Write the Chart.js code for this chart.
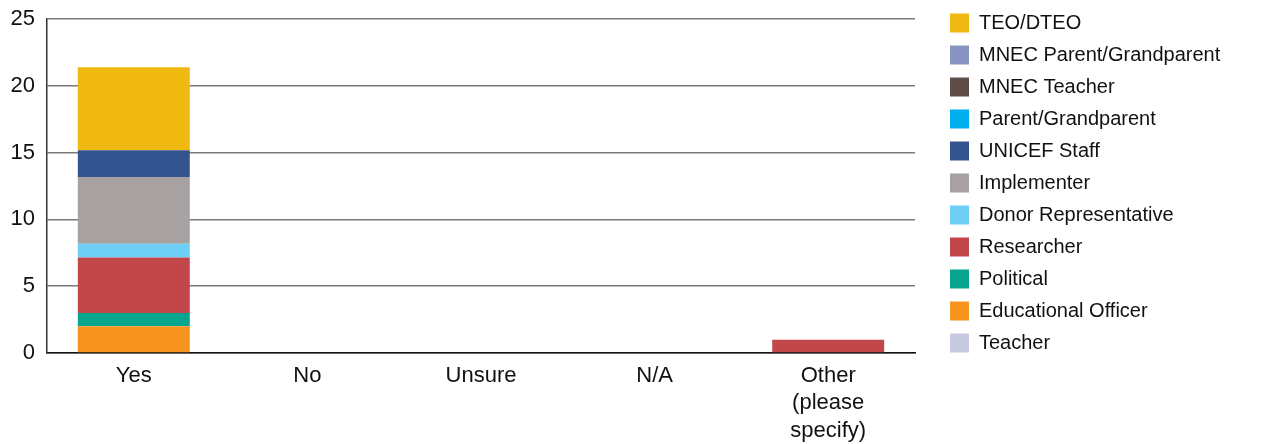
<!DOCTYPE html>
<html>
<head>
<meta charset="utf-8">
<script src="https://cdn.jsdelivr.net/npm/chart.js@4"></script>
<style>
  html, body { margin: 0; padding: 0; background: #fff; }
  #wrap { width: 1262px; height: 444px; position: relative; }
</style>
</head>
<body>
<div id="wrap"><canvas id="chart"></canvas></div>
<script>
// categories on the x axis
const categories = ['Yes', 'No', 'Unsure', 'N/A', ['Other', '(please', 'specify)']];

// one series per respondent type, stacked bottom to top
const teacher = [0, 0, 0, 0, 0];
const educationalOfficer = [2, 0, 0, 0, 0];
const political = [1, 0, 0, 0, 0];
const researcher = [4.15, 0, 0, 0, 1];
const donorRepresentative = [1.03, 0, 0, 0, 0];
const implementer = [5, 0, 0, 0, 0];
const unicefStaff = [2, 0, 0, 0, 0];
const parentGrandparent = [0, 0, 0, 0, 0];
const mnecTeacher = [0, 0, 0, 0, 0];
const mnecParentGrandparent = [0, 0, 0, 0, 0];
const teoDteo = [6.2, 0, 0, 0, 0];

const yTicks = [0, 5, 10, 15, 20, 25];

const series = [
  { label: 'Teacher', data: teacher, color: '#c5cae0' },
  { label: 'Educational Officer', data: educationalOfficer, color: '#f7941e' },
  { label: 'Political', data: political, color: '#08a58e' },
  { label: 'Researcher', data: researcher, color: '#c1474a' },
  { label: 'Donor Representative', data: donorRepresentative, color: '#6dcff6' },
  { label: 'Implementer', data: implementer, color: '#a7a2a1' },
  { label: 'UNICEF Staff', data: unicefStaff, color: '#33548e' },
  { label: 'Parent/Grandparent', data: parentGrandparent, color: '#00aeef' },
  { label: 'MNEC Teacher', data: mnecTeacher, color: '#5d4e4a' },
  { label: 'MNEC Parent/Grandparent', data: mnecParentGrandparent, color: '#8894bf' },
  { label: 'TEO/DTEO', data: teoDteo, color: '#f0b912' },
];

const FONT = '"Liberation Sans", Arial, sans-serif';
const LEGEND_WIDTH = 347;
const LEGEND_GAP = 23;
const LEGEND_TOP = 1;

// keep the legend a fixed width, leave a gap after the plot, pin it to the top
const legendPlacement = {
  id: 'legendPlacement',
  afterInit(chart) {
    const legend = chart.legend;
    const fit = legend.fit;
    legend.fit = function () {
      fit.call(this);
      this.width = LEGEND_WIDTH;
    };
  },
  afterLayout(chart) {
    const legend = chart.legend;
    const h = legend.bottom - legend.top;
    legend.left += LEGEND_GAP;
    legend.right += LEGEND_GAP;
    legend.top = LEGEND_TOP;
    legend.bottom = LEGEND_TOP + h;
  },
};

new Chart(document.getElementById('chart'), {
  type: 'bar',
  data: {
    labels: categories,
    datasets: series.map((s) => ({
      label: s.label,
      data: s.data,
      backgroundColor: s.color,
      borderWidth: 0,
      barPercentage: 0.645,
      categoryPercentage: 1,
    })),
  },
  options: {
    responsive: true,
    maintainAspectRatio: false,
    animation: false,
    layout: { padding: { top: 19, left: 0, right: 0, bottom: 0 } },
    plugins: {
      tooltip: { enabled: false },
      legend: {
        position: 'right',
        align: 'start',
        reverse: true,
        labels: {
          boxWidth: 19,
          boxHeight: 19,
          padding: 12,
          color: '#111',
          font: { family: FONT, size: 20 },
        },
      },
    },
    scales: {
      x: {
        stacked: true,
        afterFit(scale) {
          scale.height = 91;
          scale.paddingLeft = 0;
          scale.paddingRight = 0;
        },
        grid: { display: false, drawTicks: false },
        border: { display: true, color: '#111', width: 1.5 },
        ticks: { color: '#111', padding: 9, font: { family: FONT, size: 22, lineHeight: 1.25 } },
      },
      y: {
        stacked: true,
        min: 0,
        max: 25,
        afterBuildTicks(axis) {
          axis.ticks = yTicks.map((v) => ({ value: v }));
        },
        afterFit(scale) {
          scale.width = 47;
          scale.paddingTop = 0;
          scale.paddingBottom = 0;
        },
        grid: { color: '#7a7a7a', lineWidth: 1.5, drawTicks: false },
        border: { display: true, color: '#333', width: 1.5 },
        ticks: { color: '#111', padding: 12, font: { family: FONT, size: 22 } },
      },
    },
  },
  plugins: [legendPlacement],
});
</script>
</body>
</html>
